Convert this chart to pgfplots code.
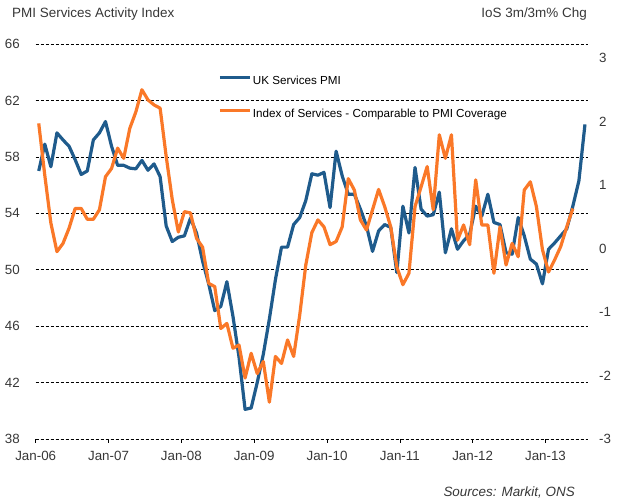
\documentclass[border=0pt]{standalone}
\usepackage{pgfplots}
\pgfplotsset{compat=1.18}
\usepackage{fontspec}
\setmainfont{Liberation Sans}
\definecolor{pmiblue}{RGB}{31,91,140}
\definecolor{iosorange}{RGB}{250,120,40}
\definecolor{txt}{RGB}{55,55,55}
\begin{document}
\begin{tikzpicture}
\path[use as bounding box] (0,0) rectangle (620bp,504bp);
\begin{axis}[
  at={(35.7bp,65bp)}, anchor=south west, scale only axis,
  width=552.3bp, height=395bp,
  xmin=0, xmax=91, ymin=38, ymax=66,
  xtick={0,12,24,36,48,60,72,84},
  xticklabels={Jan-06,Jan-07,Jan-08,Jan-09,Jan-10,Jan-11,Jan-12,Jan-13},
  ytick={38,42,...,66},
  axis x line*=bottom, axis y line*=left,
  y axis line style={draw=none}, ytick style={draw=none},
  x axis line style={black, line width=0.7bp, dash pattern=on 3bp off 2bp},
  xtick style={black, line width=0.7bp, solid},
  tick align=outside, major tick length=4bp,
  ymajorgrids, grid style={black, line width=0.7bp, dash pattern=on 3bp off 2bp},
  /pgf/number format/assume math mode=true,
  tick label style={font=\fontsize{13.4}{15}\selectfont, text=txt},
  yticklabel style={anchor=east, inner sep=0pt, xshift=-11.7bp},
  xticklabel style={anchor=north, inner sep=0pt, yshift=-8bp},
]
\addplot[pmiblue, line width=3.2bp, line join=round] coordinates {
(0.5,57.0) (1.5,58.9) (2.5,57.3) (3.5,59.7) (4.5,59.2) (5.5,58.75) (6.5,57.8) (7.5,56.75) (8.5,57.0) (9.5,59.2)
(10.5,59.7) (11.5,60.5) (12.5,58.75) (13.5,57.4) (14.5,57.4) (15.5,57.2) (16.5,57.15) (17.5,57.75) (18.5,57.05) (19.5,57.5)
(20.5,56.6) (21.5,53.1) (22.5,52.0) (23.5,52.3) (24.5,52.4) (25.5,53.65) (26.5,52.6) (27.5,50.6) (28.5,49.0) (29.5,47.1)
(30.5,47.4) (31.5,49.15) (32.5,46.7) (33.5,43.8) (34.5,40.1) (35.5,40.2) (36.5,42.0) (37.5,44.0) (38.5,46.5) (39.5,49.3)
(40.5,51.6) (41.5,51.6) (42.5,53.2) (43.5,53.7) (44.5,54.9) (45.5,56.8) (46.5,56.7) (47.5,56.9) (48.5,54.4) (49.5,58.4)
(50.5,56.65) (51.5,55.35) (52.5,55.35) (53.5,54.3) (54.5,53.1) (55.5,51.3) (56.5,52.75) (57.5,53.2) (58.5,53.0) (59.5,49.8)
(60.5,54.5) (61.5,52.6) (62.5,57.25) (63.5,54.3) (64.5,53.8) (65.5,53.9) (66.5,55.5) (67.5,51.2) (68.5,52.9) (69.5,51.45)
(70.5,52.05) (71.5,52.5) (72.5,54.5) (73.5,53.8) (74.5,55.35) (75.5,53.35) (76.5,53.2) (77.5,51.2) (78.5,51.1) (79.5,53.7)
(80.5,52.4) (81.5,50.75) (82.5,50.4) (83.5,49.0) (84.5,51.45) (85.5,51.9) (86.5,52.4) (87.5,52.9) (88.5,54.5) (89.5,56.3)
(90.5,60.3)
};
\end{axis}
\begin{axis}[
  at={(35.7bp,65bp)}, anchor=south west, scale only axis,
  width=552.3bp, height=395bp,
  xmin=0, xmax=91, ymin=-3, ymax=3.22,
  axis x line=none, axis y line*=right,
  y axis line style={draw=none}, ytick style={draw=none},
  ytick={-3,-2,...,3},
  /pgf/number format/assume math mode=true,
  tick label style={font=\fontsize{13.4}{15}\selectfont, text=txt},
  yticklabel style={anchor=west, inner sep=0pt, xshift=11bp},
  legend image code/.code={\draw[#1] (0bp,4bp) -- (30bp,4bp);},
  legend cell align=left,
  legend style={at={(0.330,0.9215)}, anchor=north west, draw=none, fill=none,
    font=\fontsize{11.7}{14}\selectfont, text=black, inner sep=0pt,
    row sep=21bp, nodes={inner xsep=1.5bp, inner ysep=0pt, text height=9bp, text depth=3bp}},
]
\addlegendimage{pmiblue, line width=3.2bp}
\addlegendentry{UK Services PMI}
\addplot[iosorange, line width=3.2bp, line join=round] coordinates {
(0.5,1.97) (1.5,1.15) (2.5,0.40) (3.5,-0.05) (4.5,0.08) (5.5,0.32) (6.5,0.63) (7.5,0.63) (8.5,0.46) (9.5,0.46)
(10.5,0.61) (11.5,1.13) (12.5,1.26) (13.5,1.58) (14.5,1.42) (15.5,1.89) (16.5,2.15) (17.5,2.50) (18.5,2.34) (19.5,2.26)
(20.5,2.21) (21.5,1.45) (22.5,0.77) (23.5,0.26) (24.5,0.58) (25.5,0.56) (26.5,0.16) (27.5,0.02) (28.5,-0.55) (29.5,-0.60)
(30.5,-1.26) (31.5,-1.18) (32.5,-1.57) (33.5,-1.52) (34.5,-2.04) (35.5,-1.65) (36.5,-1.97) (37.5,-1.78) (38.5,-2.42) (39.5,-1.70)
(40.5,-1.81) (41.5,-1.44) (42.5,-1.70) (43.5,-1.05) (44.5,-0.26) (45.5,0.25) (46.5,0.45) (47.5,0.34) (48.5,0.06) (49.5,0.11)
(50.5,0.34) (51.5,1.10) (52.5,0.92) (53.5,0.45) (54.5,0.29) (55.5,0.61) (56.5,0.93) (57.5,0.66) (58.5,0.34) (59.5,-0.29)
(60.5,-0.57) (61.5,-0.39) (62.5,0.66) (63.5,0.97) (64.5,1.29) (65.5,0.61) (66.5,1.79) (67.5,1.42) (68.5,1.79) (69.5,0.13)
(70.5,0.37) (71.5,0.06) (72.5,1.08) (73.5,0.37) (74.5,0.37) (75.5,-0.39) (76.5,0.34) (77.5,-0.26) (78.5,0.08) (79.5,-0.13)
(80.5,0.92) (81.5,1.05) (82.5,0.66) (83.5,-0.02) (84.5,-0.37) (85.5,-0.18) (86.5,0.03) (87.5,0.34) (88.5,0.63)
};
\addlegendentry{Index of Services - Comparable to PMI Coverage}
\end{axis}
\node[anchor=west, inner sep=0pt, text=txt, font=\fontsize{13.5}{15}\selectfont] at (12bp,490bp) {PMI Services Activity Index};
\node[anchor=east, inner sep=0pt, text=txt, font=\fontsize{13.5}{15}\selectfont] at (587bp,490bp) {IoS 3m/3m\% Chg};
\node[anchor=east, inner sep=0pt, text=txt, font=\fontsize{13.5}{15}\selectfont\itshape] at (575bp,12bp) {Sources: Markit, ONS};
\end{tikzpicture}
\end{document}
